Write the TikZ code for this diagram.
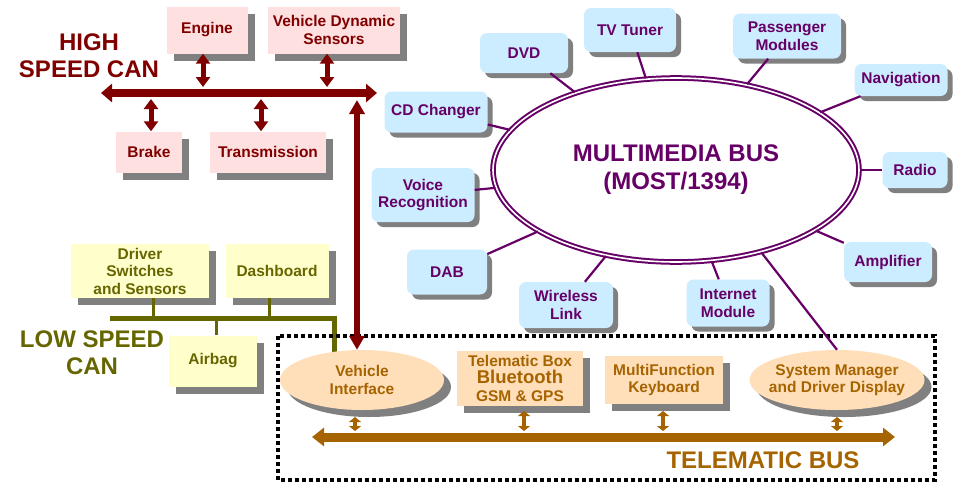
\documentclass[tikz,border=0pt]{standalone}
\usepackage{fontspec}
\setmainfont{Liberation Sans}
\usetikzlibrary{positioning,arrows.meta,shapes.geometric,shadows,backgrounds}

\definecolor{canred}{RGB}{128,0,0}
\definecolor{canpink}{RGB}{255,224,224}
\definecolor{mmpurple}{RGB}{102,0,102}
\definecolor{mmblue}{RGB}{204,236,255}
\definecolor{lsolive}{RGB}{102,102,0}
\definecolor{lsyellow}{RGB}{255,255,204}
\definecolor{tmbrown}{RGB}{166,100,0}
\definecolor{tmpeach}{RGB}{255,222,186}
\definecolor{shadowgray}{RGB}{128,128,128}

\tikzset{
  boxfont/.style={font=\fontsize{15.5}{17.5}\selectfont\bfseries},
  busfont/.style={font=\fontsize{24}{27}\selectfont\bfseries},
  flatshadow/.style={drop shadow={shadow xshift=7pt,shadow yshift=-7pt,opacity=1,fill=shadowgray}},
  hsbox/.style={boxfont,flatshadow,fill=canpink,text=canred,inner sep=0pt,align=center},
  lsbox/.style={boxfont,flatshadow,fill=lsyellow,text=lsolive,inner sep=0pt,align=center},
  mmbox/.style={boxfont,drop shadow={shadow xshift=5pt,shadow yshift=-5pt,opacity=1,fill=shadowgray},
    fill=mmblue,text=mmpurple,rounded corners=7pt,inner sep=0pt,align=center},
  tmbox/.style={boxfont,flatshadow,fill=tmpeach,text=tmbrown,inner sep=0pt,align=center},
  tmoval/.style={tmbox,ellipse,inner xsep=-8pt},
  mmlink/.style={draw=mmpurple,line width=2.2pt},
  hsbus/.style={draw=canred,line width=8pt,>={Triangle[length=11pt,width=18pt]},<->},
  hsvert/.style={draw=canred,line width=5pt,>={Triangle[length=10pt,width=14pt]},<->},
  hsgate/.style={draw=canred,line width=6pt,>={Triangle[length=14pt,width=15pt]},<->},
  lsbus/.style={draw=lsolive,line width=5pt},
  lstap/.style={draw=lsolive,line width=3pt},
  tmbus/.style={draw=tmbrown,line width=9pt,>={Triangle[length=12pt,width=18pt]},<->},
  tmsmall/.style={draw=tmbrown,line width=4pt,>={Triangle[length=5pt,width=12pt]},<->}
}

\begin{document}
\begin{tikzpicture}[x=1pt,y=-1pt]
\useasboundingbox (0,0) rectangle (960,483);

% high speed CAN
\node[busfont,text=canred,align=center] (hslbl) at (89,56) {HIGH\\SPEED CAN};
\node[hsbox,minimum width=81,minimum height=47] (engine) at (207,30) {Engine};
\node[hsbox,minimum width=132,minimum height=47] (vds) at (334,30) {Vehicle Dynamic\\Sensors};
\node[hsbox,minimum width=66,minimum height=41] (brake) at (149,152) {Brake};
\node[hsbox,minimum width=116,minimum height=41] (trans) at (268,152) {Transmission};

% multimedia bus
\node[ellipse,draw=mmpurple,line width=2pt,double=white,double distance=1.6pt,
  minimum width=366,minimum height=184,inner sep=0pt,text=mmpurple,align=center,
  font=\fontsize{24}{28}\selectfont\bfseries] (mm) at (676,170) {MULTIMEDIA BUS\\(MOST/1394)};
\node[mmbox,minimum width=103,minimum height=41] (cdc) at (436,112) {CD Changer};
\node[mmbox,minimum width=88,minimum height=40] (dvd) at (524,53) {DVD};
\node[mmbox,minimum width=92,minimum height=44] (tvt) at (630,30) {TV Tuner};
\node[mmbox,minimum width=108,minimum height=45] (pas) at (787,36) {Passenger\\Modules};
\node[mmbox,minimum width=93,minimum height=32] (nav) at (901,80) {Navigation};
\node[mmbox,minimum width=65,minimum height=36] (rad) at (915,170) {Radio};
\node[mmbox,minimum width=103,minimum height=54] (voi) at (423,195) {Voice\\Recognition};
\node[mmbox,minimum width=88,minimum height=40] (amp) at (888,262) {Amplifier};
\node[mmbox,minimum width=80,minimum height=45] (dab) at (447,272) {DAB};
\node[mmbox,minimum width=94,minimum height=46] (wls) at (566,305) {Wireless\\Link};
\node[mmbox,minimum width=83,minimum height=47] (inet) at (728,303) {Internet\\Module};

% low speed CAN
\node[busfont,text=lsolive,align=center] (lslbl) at (92,353) {LOW SPEED\\CAN};
\node[lsbox,minimum width=138,minimum height=54] (driver) at (140,271) {Driver\\Switches\\and Sensors};
\node[lsbox,minimum width=103,minimum height=54] (dashbd) at (277,271) {Dashboard};
\node[lsbox,minimum width=88,minimum height=51] (airbag) at (213,361) {Airbag};

% telematic zone
\draw[dash pattern=on 4pt off 3pt,line width=3.5pt] (278,336) rectangle (935,480);
\node[busfont,text=tmbrown] (tmlbl) at (763,460) {TELEMATIC BUS};
\node[tmoval,minimum width=164,minimum height=60] (vif) at (362,380) {Vehicle\\Interface};
\node[tmbox,minimum width=126,minimum height=55] (telbox) at (520,378)
  {Telematic Box\\{\fontsize{18.5}{19}\selectfont Bluetooth}\\GSM \& GPS};
\node[tmbox,minimum width=118,minimum height=48] (mfkey) at (664,380) {MultiFunction\\Keyboard};
\node[tmoval,minimum width=175,minimum height=60] (sysmgr) at (837,380) {System Manager\\and Driver Display};

% bus taps
\coordinate (hsW) at (101,93);
\coordinate (hsE) at (377,93);
\coordinate (engTap) at (203,87);
\coordinate (vdsTap) at (327,87);
\coordinate (brkTap) at (151,99);
\coordinate (trnTap) at (261,99);
\coordinate (gwTap) at (357,100);
\coordinate (lsW) at (110,318);
\coordinate (lsE) at (334,318);
\coordinate (drvTap) at (153,318);
\coordinate (dshTap) at (269,318);
\coordinate (airTap) at (216,318);
\coordinate (tbW) at (312,437);
\coordinate (tbE) at (895,437);
\coordinate (tbTop) at (0,431);
\coordinate (vifTap) at (355,417);
\coordinate (telTap) at (524,411);
\coordinate (keyTap) at (663,411);
\coordinate (sysTap) at (837,417);

\begin{scope}[on background layer]
\draw[lsbus] (lsW) -- (lsE) -- (lsE |- vif.center);
\end{scope}
\draw[lstap] (driver.south -| drvTap) -- (drvTap);
\draw[lstap] (dashbd.south -| dshTap) -- (dshTap);
\draw[lstap] (airTap) -- (airbag.north -| airTap);

\draw[hsbus] (hsW) -- (hsE);
\draw[hsvert] (engine.south -| engTap) -- (engTap);
\draw[hsvert] (vds.south -| vdsTap) -- (vdsTap);
\draw[hsvert] (brkTap) -- (brake.north -| brkTap);
\draw[hsvert] (trnTap) -- (trans.north -| trnTap);
\draw[hsgate] (gwTap) -- (vif.north -| gwTap);

\foreach \dev in {cdc,dvd,tvt,pas,nav,rad,voi,amp,dab,wls,inet}
  \draw[mmlink] (mm) -- (\dev);
\draw[mmlink] (mm.-44) -- (sysmgr.north);

\draw[tmbus] (tbW) -- (tbE);
\foreach \tap in {vifTap,telTap,keyTap,sysTap}
  \draw[tmsmall] (\tap) -- (\tap |- tbTop);
\end{tikzpicture}
\end{document}
